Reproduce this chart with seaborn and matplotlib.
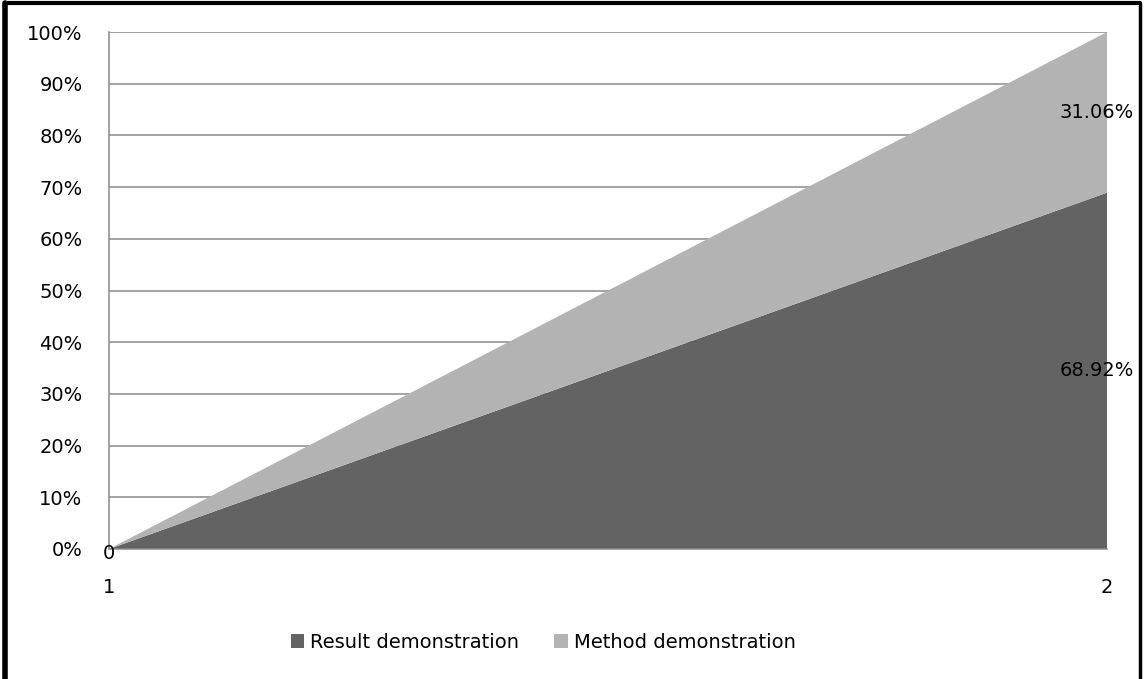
import numpy as np
import matplotlib.pyplot as plt
import seaborn as sns
from matplotlib.lines import Line2D
from matplotlib.patches import Patch
from matplotlib.ticker import PercentFormatter

# data
x_vals = [1, 2]
result_demo = [0.0, 68.92]
method_demo = [0.0, 31.06]
series_names = ["Result demonstration", "Method demonstration"]
series_colors = ["#636363", "#b3b3b3"]
y_ticks = list(range(0, 101, 10))

sns.set_theme(style="white")
plt.rcParams['font.family'] = ['DejaVu Sans']
plt.rcParams['text.color'] = 'black'

fig = plt.figure(figsize=(11.44, 6.79), dpi=100)
ax = fig.add_axes([109 / 1144, 1 - 549 / 679, (1107 - 109) / 1144, (549 - 32) / 679])

ax.stackplot(x_vals, result_demo, method_demo, colors=series_colors,
             linewidth=0, edgecolor="none", zorder=2)

# gridlines
for t in y_ticks[1:]:
    ax.axhline(t, color="#8a8a8a", lw=1.1, zorder=1)

ax.set_xlim(1, 2)
ax.set_ylim(0, 100)
ax.set_yticks(y_ticks)
ax.yaxis.set_major_formatter(PercentFormatter(decimals=0))
ax.set_xticks(x_vals)
ax.set_xticklabels([str(v) for v in x_vals])
ax.tick_params(axis="y", length=0, pad=19, labelsize=14, labelcolor="black")
ax.tick_params(axis="x", length=0, pad=21, labelsize=14, labelcolor="black")

for side in ["top", "right"]:
    ax.spines[side].set_visible(False)
for side in ["left", "bottom"]:
    ax.spines[side].set_color("#8a8a8a")
    ax.spines[side].set_linewidth(1.1)

# data labels
ax.text(x_vals[0], result_demo[0] - 0.8, "0", ha="center", va="center", fontsize=14,
        color="black", zorder=5, clip_on=False)
ax.text(x_vals[1] - 0.01, result_demo[1] / 2, f"{result_demo[1]:.2f}%",
        ha="center", va="center", fontsize=14, color="black", zorder=5, clip_on=False)
ax.text(x_vals[1] - 0.01, result_demo[1] + method_demo[1] / 2, f"{method_demo[1]:.2f}%",
        ha="center", va="center", fontsize=14, color="black", zorder=5, clip_on=False)

handles = [Patch(facecolor=c, edgecolor="none", label=n) for n, c in zip(series_names, series_colors)]
leg = fig.legend(handles=handles, loc="center", bbox_to_anchor=(543 / 1144, 1 - 642 / 679), ncol=2,
                 frameon=False, fontsize=14, handlelength=0.7, handleheight=0.7,
                 handletextpad=0.3, columnspacing=1.8)
for txt in leg.get_texts():
    txt.set_color("black")

# outer frame (left, top, right)
fig.add_artist(Line2D([5 / 1144, 5 / 1144], [0, 1 - 3 / 679], color="black", lw=4))
fig.add_artist(Line2D([5 / 1144, 1140 / 1144], [1 - 3 / 679, 1 - 3 / 679], color="black", lw=3))
fig.add_artist(Line2D([1140 / 1144, 1140 / 1144], [0, 1 - 3 / 679], color="black", lw=2.5))

fig.savefig("out.png", dpi=100, facecolor="white")
